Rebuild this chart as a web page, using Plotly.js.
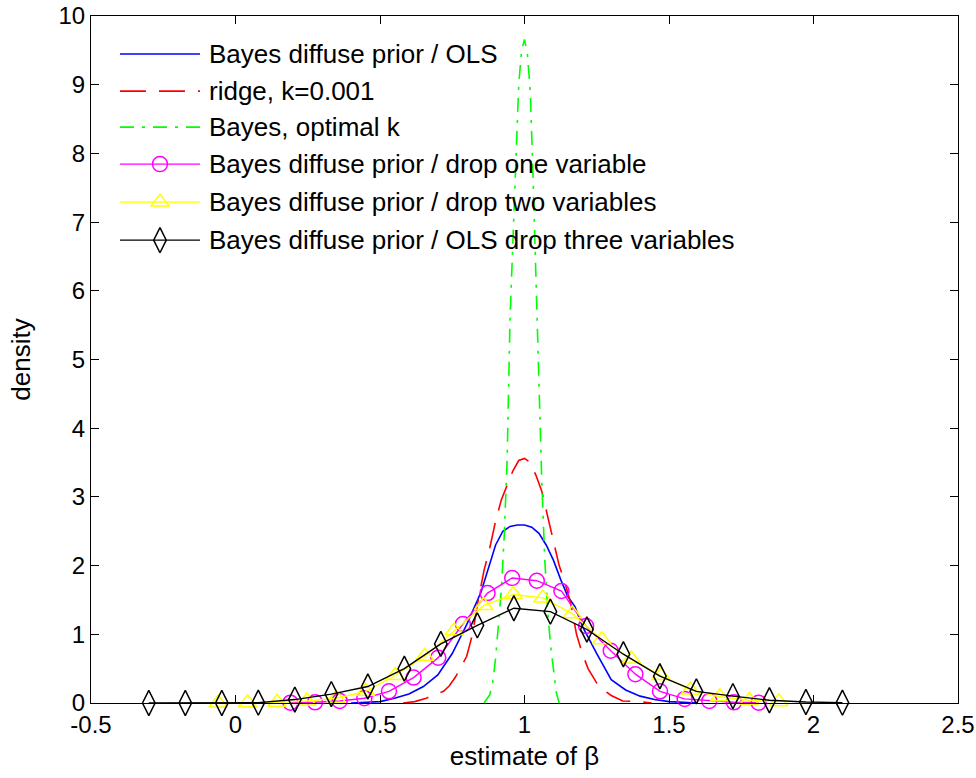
<!DOCTYPE html>
<html><head><meta charset="utf-8">
<script src="https://cdn.plot.ly/plotly-3.0.1.min.js"></script>
<style>body{margin:0;background:#fff}#chart{width:976px;height:778px}</style>
</head><body><div id="chart"></div>
<script>
// Series data
const seriesNames = [
  "Bayes diffuse prior / OLS",
  "ridge, k=0.001",
  "Bayes, optimal k",
  "Bayes diffuse prior / drop one variable",
  "Bayes diffuse prior / drop two variables",
  "Bayes diffuse prior / OLS drop three variables"
];
const olsX = [0.40,0.45,0.50,0.55,0.60,0.65,0.70,0.75,0.80,0.85,0.875,0.90,0.925,0.95,0.975,1.00,1.025,1.05,1.075,1.10,1.125,1.15,1.175,1.20,1.25,1.30,1.35,1.40,1.45,1.50,1.55,1.60];
const olsY = [0.0,0.005,0.02,0.07,0.13,0.24,0.41,0.72,1.14,1.62,1.95,2.30,2.50,2.57,2.59,2.59,2.56,2.47,2.30,2.08,1.80,1.55,1.40,1.12,0.72,0.34,0.19,0.10,0.05,0.02,0.01,0.0];
const ridgeX = [0.58,0.62,0.66,0.70,0.72,0.74,0.76,0.78,0.80,0.82,0.84,0.86,0.88,0.90,0.92,0.94,0.96,0.98,1.00,1.02,1.04,1.06,1.08,1.10,1.12,1.14,1.16,1.18,1.20,1.22,1.25,1.28,1.30,1.34,1.40,1.44];
const ridgeY = [0.0,0.02,0.07,0.13,0.17,0.25,0.37,0.52,0.68,1.00,1.50,1.93,2.26,2.65,2.96,3.17,3.38,3.53,3.56,3.50,3.31,3.08,2.70,2.36,2.00,1.75,1.45,1.00,0.72,0.50,0.29,0.17,0.11,0.03,0.02,0.0];
const optX = [0.86,0.88,0.89,0.90,0.91,0.92,0.93,0.94,0.95,0.96,0.97,0.98,0.99,1.00,1.01,1.02,1.03,1.04,1.05,1.06,1.07,1.08,1.09,1.10,1.11,1.12];
const optY = [0.0,0.12,0.30,0.65,1.15,1.65,2.45,3.55,5.6,6.8,8.0,9.0,9.5,9.66,9.45,8.9,7.6,6.1,4.6,3.2,2.1,1.35,0.85,0.45,0.15,0.0];
const drop1X = [0.19,0.2753,0.3605,0.4458,0.5311,0.6163,0.7016,0.7868,0.8721,0.9574,1.0426,1.1279,1.2132,1.2984,1.3837,1.4689,1.5542,1.6395,1.7247,1.81];
const drop1Y = [0.005,0.01,0.03,0.07,0.17,0.37,0.66,1.15,1.60,1.82,1.78,1.63,1.12,0.76,0.42,0.17,0.06,0.03,0.01,0.005];
const drop2X = [-0.06,0.0421,0.1442,0.2463,0.3484,0.4505,0.5526,0.6547,0.7568,0.8589,0.9611,1.0632,1.1653,1.2674,1.3695,1.4716,1.5737,1.6758,1.7779,1.88];
const drop2Y = [0.0,0.005,0.01,0.03,0.07,0.17,0.40,0.68,1.05,1.42,1.58,1.53,1.30,0.92,0.64,0.40,0.19,0.09,0.04,0.02];
const drop3X = [-0.3,-0.1737,-0.0474,0.0789,0.2053,0.3316,0.4579,0.5842,0.7105,0.8368,0.9632,1.0895,1.2158,1.3421,1.4684,1.5947,1.7211,1.8474,1.9737,2.1];
const drop3Y = [0.0,0.0,0.0,0.005,0.05,0.13,0.24,0.50,0.86,1.13,1.38,1.33,1.07,0.71,0.39,0.17,0.10,0.04,0.015,0.005];
const xTickVals = [-0.5,0,0.5,1,1.5,2,2.5];
const xTickText = ["-0.5","0","0.5","1","1.5","2","2.5"];
const yTickVals = [0,1,2,3,4,5,6,7,8,9,10];
const yTickText = ["0","1","2","3","4","5","6","7","8","9","10"];

const FONT = "Liberation Sans, Arial, sans-serif";
const styles = [
  {line:{color:"#0000ff",width:1.6}, mode:"lines"},
  {line:{color:"#ff0000",width:1.6,dash:"26px,13px"}, mode:"lines"},
  {line:{color:"#00ff00",width:1.6,dash:"14px,8px,3px,8px"}, mode:"lines"},
  {line:{color:"#ff00ff",width:1.4}, mode:"lines+markers", marker:{symbol:"circle-open",size:15,color:"#ff00ff",line:{width:1.5}}},
  {line:{color:"#ffff00",width:1.4}, mode:"lines+markers", marker:{symbol:"triangle-up-open",size:16,color:"#ffff00",line:{width:1.5}}},
  {line:{color:"#000000",width:1.4}, mode:"lines+markers", marker:{symbol:"diamond-tall-open",size:18,color:"#000000",line:{width:1.5}}}
];
const xs = [olsX, ridgeX, optX, drop1X, drop2X, drop3X];
const ys = [olsY, ridgeY, optY, drop1Y, drop2Y, drop3Y];

const traces = [];
for (let i = 0; i < 6; i++) {
  traces.push(Object.assign({type:"scatter", x:xs[i], y:ys[i], name:seriesNames[i], showlegend:false, cliponaxis:false}, styles[i]));
}
// Custom MATLAB-like legend on an overlay axis spanning the plot area (0..1)
const legRows = [0.9447, 0.8907, 0.8383, 0.7844, 0.7291, 0.6737];
const legX0 = 0.0334, legX1 = 0.1257, legTextX = 0.134;
const annotations = [];
for (let i = 0; i < 6; i++) {
  const s = styles[i];
  const t = {type:"scatter", xaxis:"x2", yaxis:"y2", x:[legX0,(legX0+legX1)/2,legX1], y:[legRows[i],legRows[i],legRows[i]],
    mode:s.mode, line:s.line, showlegend:false, hoverinfo:"skip"};
  if (s.marker) t.marker = Object.assign({}, s.marker, {opacity:[0,1,0]});
  traces.push(t);
  annotations.push({xref:"x2", yref:"y2", x:legTextX, y:legRows[i], text:seriesNames[i], showarrow:false,
    xanchor:"left", yanchor:"middle", font:{family:FONT,size:26,color:"#000"}});
}

const axisCommon = {showgrid:false, zeroline:false, showline:true, linecolor:"#000", linewidth:1,
  ticks:"inside", ticklen:8, tickwidth:1, tickcolor:"#000", mirror:"allticks",
  tickfont:{family:FONT,size:24,color:"#000"}};
const layout = {
  width:976, height:778,
  margin:{l:91, r:18, t:16, b:75},
  paper_bgcolor:"#fff", plot_bgcolor:"#fff",
  showlegend:false,
  xaxis:Object.assign({}, axisCommon, {range:[-0.5,2.5], tickmode:"array", tickvals:xTickVals, ticktext:xTickText,
    title:{text:"estimate of β", font:{family:FONT,size:26,color:"#000"}, standoff:10}}),
  yaxis:Object.assign({}, axisCommon, {range:[0,10], tickmode:"array", tickvals:yTickVals, ticktext:yTickText,
    title:{text:"density", font:{family:FONT,size:26,color:"#000"}, standoff:20}}),
  xaxis2:{overlaying:"x", range:[0,1], visible:false, fixedrange:true},
  yaxis2:{overlaying:"y", range:[0,1], visible:false, fixedrange:true},
  annotations:annotations
};
Plotly.newPlot("chart", traces, layout, {staticPlot:true, displayModeBar:false});
</script>
</body></html>
